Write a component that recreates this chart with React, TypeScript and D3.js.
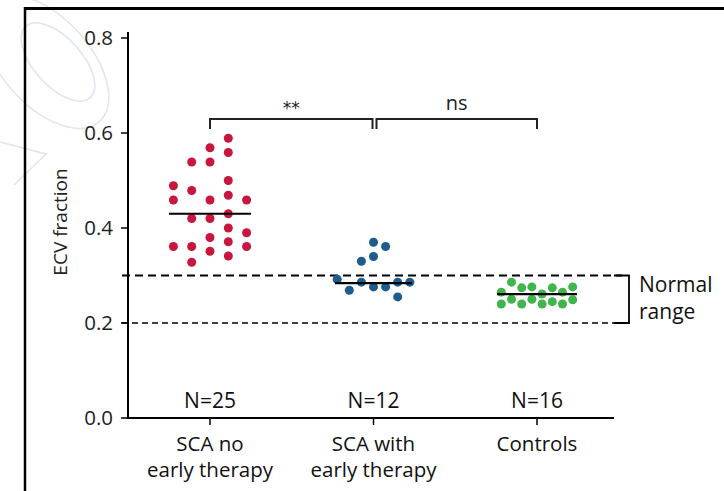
import React from "react";
import * as d3 from "d3";

// ECV fraction per subject, with the horizontal swarm lane of each dot
const groups = ["SCA no|early therapy", "SCA with|early therapy", "Controls"];
const groupCounts = ["N=25", "N=12", "N=16"];

const noTherapyValues = [
  0.589, 0.569, 0.559, 0.539, 0.539, 0.5, 0.489, 0.479, 0.469, 0.459, 0.459, 0.459, 0.43,
  0.42, 0.42, 0.4, 0.38, 0.39, 0.371, 0.361, 0.361, 0.361, 0.351, 0.341, 0.328,
];
const noTherapyLane = [1, 0, 1, -1, 0, 1, -2, -1, 1, -2, 0, 2, 1, -1, 0, 1, 0, 2, 1, -2, -1, 2, 0, 1, -1];

const earlyTherapyValues = [0.37, 0.361, 0.33, 0.34, 0.292, 0.286, 0.269, 0.276, 0.276, 0.286, 0.286, 0.255];
const earlyTherapyLane = [0, 1, -1, 0, -3, -1, -2, 0, 1, 2, 3, 2];

const controlValues = [
  0.265, 0.286, 0.274, 0.276, 0.261, 0.274, 0.265, 0.276,
  0.24, 0.25, 0.24, 0.25, 0.24, 0.245, 0.24, 0.249,
];
const controlLane = [-3.5, -2.5, -1.5, -0.5, 0.5, 1.5, 2.5, 3.5, -3.5, -2.5, -1.5, -0.5, 0.5, 1.5, 2.5, 3.5];

const medians = [0.43, 0.284, 0.261];
const normalRange = [0.2, 0.3];
const yTicks = [0, 0.2, 0.4, 0.6, 0.8];
const comparisons = [
  { from: 0, to: 1, label: "**" },
  { from: 1, to: 2, label: "ns" },
];

const colors = ["#c8163f", "#1d5c8c", "#40b54b"];
const laneStep = [18.3, 12.1, 10.2];

const W = 724;
const H = 491;
const labelFont = "'Open Sans', Lato, sans-serif";
const tickFont = "'Open Sans', 'Liberation Sans', sans-serif";

export default function App() {
  const y = d3.scaleLinear().domain([0, 0.8]).range([418, 38]);
  const x = d3.scalePoint<number>().domain([0, 1, 2]).range([210, 537]);
  const axisX = 128;
  const axisY = y(0);
  const axisRight = 614;

  const series = [
    { values: noTherapyValues, lanes: noTherapyLane },
    { values: earlyTherapyValues, lanes: earlyTherapyLane },
    { values: controlValues, lanes: controlLane },
  ];
  const medianHalf = [41, 38.5, 40];

  const bracketY = 119;
  const bracketDrop = 10;

  return (
    <svg
      width={W}
      height={H}
      style={{ position: "absolute", left: 0, top: 0, background: "#fff" }}
    >
      {/* faint watermark loops */}
      <g fill="none" stroke="#e0e6ed" strokeWidth={1.6}>
        <ellipse cx={58} cy={62} rx={48} ry={24} transform="rotate(48 58 62)" />
        <ellipse cx={46} cy={62} rx={80} ry={44} transform="rotate(48 46 62)" />
        <path d="M0,142 L46,154 L14,185" />
      </g>

      {/* frame */}
      <line x1={24} x2={W} y1={8.5} y2={8.5} stroke="#000" strokeWidth={3} />
      <line x1={25} x2={25} y1={7} y2={H} stroke="#000" strokeWidth={2.5} />

      {/* normal range */}
      <line
        x1={122}
        x2={622}
        y1={y(normalRange[1])}
        y2={y(normalRange[1])}
        stroke="#000"
        strokeWidth={2.2}
        strokeDasharray="8 5"
      />
      <line
        x1={122}
        x2={622}
        y1={y(normalRange[0])}
        y2={y(normalRange[0])}
        stroke="#000"
        strokeWidth={1.3}
        strokeDasharray="6 4"
      />
      <path
        d={`M614,${y(normalRange[1])} H629 V${y(normalRange[0])} H614`}
        fill="none"
        stroke="#000"
        strokeWidth={1.8}
      />
      <text x={639} y={292} fontFamily={labelFont} fontSize={21} fill="#111">
        Normal
      </text>
      <text x={639} y={319} fontFamily={labelFont} fontSize={21} fill="#111">
        range
      </text>

      {/* y axis */}
      <line x1={axisX} x2={axisX} y1={y(0.8) - 6} y2={axisY} stroke="#000" strokeWidth={2} />
      {yTicks.map((t) => (
        <g key={t}>
          <line x1={axisX - 7} x2={axisX} y1={y(t)} y2={y(t)} stroke="#000" strokeWidth={1.5} />
          <text
            x={113}
            y={y(t)}
            dy="0.36em"
            textAnchor="end"
            fontFamily={tickFont}
            fontSize={20.5}
            fill="#222"
          >
            {d3.format(".1f")(t)}
          </text>
        </g>
      ))}
      <text
        transform={`translate(60,${222}) rotate(-90)`}
        textAnchor="middle"
        dy="0.35em"
        fontFamily={labelFont}
        fontSize={19}
        fill="#222"
      >
        ECV fraction
      </text>

      {/* x axis */}
      <line x1={axisX - 1} x2={axisRight} y1={axisY} y2={axisY} stroke="#000" strokeWidth={2} />
      {groups.map((g, i) => {
        const lines = g.split("|");
        return (
          <g key={g}>
            <line x1={x(i)} x2={x(i)} y1={axisY} y2={axisY + 7} stroke="#000" strokeWidth={1.5} />
            <text
              x={x(i)}
              y={408}
              textAnchor="middle"
              fontFamily={labelFont}
              fontSize={21}
              fill="#111"
            >
              {groupCounts[i]}
            </text>
            {lines.map((l, k) => (
              <text
                key={k}
                x={x(i)}
                y={451 + k * 26}
                textAnchor="middle"
                fontFamily={labelFont}
                fontSize={20.5}
                fill="#111"
              >
                {l}
              </text>
            ))}
          </g>
        );
      })}

      {/* dots */}
      {series.map((s, i) => (
        <g key={i} fill={colors[i]}>
          {s.values.map((v, k) => (
            <circle key={k} cx={(x(i) as number) + s.lanes[k] * laneStep[i]} cy={y(v)} r={4.5} />
          ))}
        </g>
      ))}

      {/* medians */}
      {medians.map((m, i) => (
        <line
          key={i}
          x1={(x(i) as number) - medianHalf[i]}
          x2={(x(i) as number) + medianHalf[i]}
          y1={y(m)}
          y2={y(m)}
          stroke="#000"
          strokeWidth={2.2}
        />
      ))}

      {/* significance brackets */}
      {comparisons.map((c, i) => {
        const x1 = (x(c.from) as number) + (i === 1 ? 3 : 0);
        const x2 = (x(c.to) as number) - (i === 0 ? 1 : 0);
        const stars = c.label === "**";
        return (
          <g key={i}>
            <path
              d={`M${x1},${bracketY + bracketDrop} V${bracketY} H${x2} V${bracketY + bracketDrop}`}
              fill="none"
              stroke="#222"
              strokeWidth={2}
            />
            <text
              x={(x1 + x2) / 2}
              y={stars ? 114 : 110}
              textAnchor="middle"
              fontFamily={stars ? "'DejaVu Sans', sans-serif" : labelFont}
              fontSize={stars ? 17 : 20}
              fill="#222"
            >
              {c.label}
            </text>
          </g>
        );
      })}
    </svg>
  );
}
